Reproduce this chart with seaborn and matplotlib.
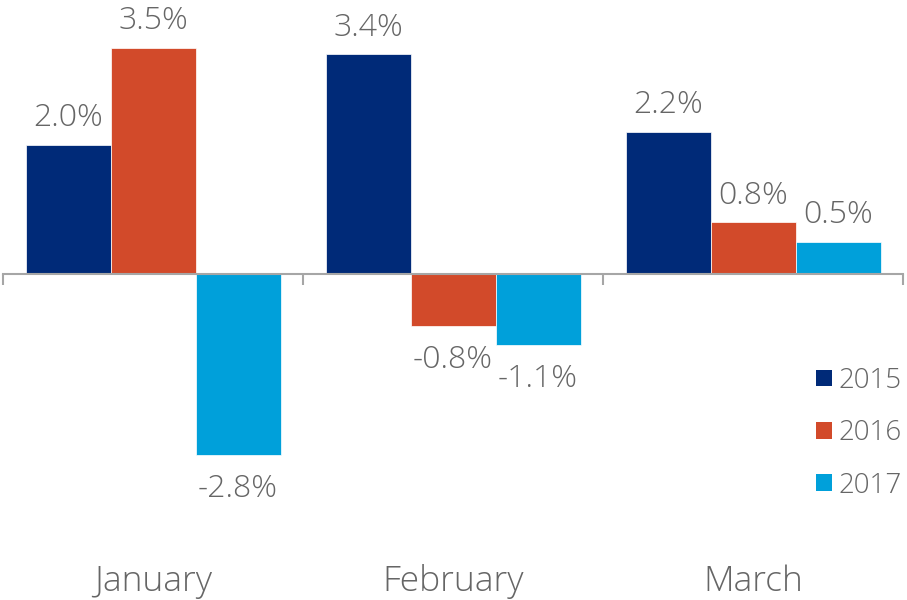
import pandas as pd
import matplotlib.pyplot as plt
import seaborn as sns
from matplotlib.patches import Patch
from matplotlib.ticker import FixedLocator

# --------------------------------------------------
# Data
# --------------------------------------------------

months = ["January", "February", "March"]
years = ["2015", "2016", "2017"]

values_2015 = [2.0, 3.4, 2.2]
values_2016 = [3.5, -0.8, 0.8]
values_2017 = [-2.8, -1.1, 0.5]

colors = ["#002A78", "#D24A2A", "#00A0DA"]

df = pd.DataFrame({
    "month": months * 3,
    "year": [y for y in years for _ in months],
    "value": values_2015 + values_2016 + values_2017,
})

# --------------------------------------------------
# Figure
# --------------------------------------------------

sns.set_style("white")
plt.rcParams["font.family"] = ["Open Sans", "DejaVu Sans"]
plt.rcParams["font.weight"] = "light"

text_color = "#666666"
axis_color = "#A6A6A6"

fig = plt.figure(figsize=(9.07, 6.0), dpi=100)
ax = fig.add_axes([3 / 907, 0.1667, 900 / 907, 0.786])

sns.barplot(
    data=df,
    x="month",
    y="value",
    hue="year",
    palette=colors,
    width=0.85,
    saturation=1,
    gap=0,
    linewidth=0.5,
    edgecolor="white",
    legend=False,
    ax=ax
)

# value labels: above positive bars, below negative ones
for container in ax.containers:
    for bar in container:
        height = bar.get_height()
        x = bar.get_x() + bar.get_width() / 2
        positive = height >= 0
        ax.annotate(
            f"{height:.1f}%",
            (x, bar.get_y() + height),
            xytext=(0, 7.5 if positive else -13),
            textcoords="offset points",
            ha="center",
            va="bottom" if positive else "top",
            fontsize=23,
            color=text_color
        )

ax.set_xlim(-0.5, 2.5)
ax.set_ylim(-3.5, 3.8)

for side in ["top", "right", "left"]:
    ax.spines[side].set_visible(False)

ax.spines["bottom"].set_position(("data", 0))
ax.spines["bottom"].set_color(axis_color)
ax.spines["bottom"].set_linewidth(1.5)

ax.set_yticks([])
ax.set_xlabel("")
ax.set_ylabel("")

ax.xaxis.set_minor_locator(FixedLocator([-0.5, 0.5, 1.5, 2.5]))
ax.tick_params(
    axis="x",
    which="minor",
    bottom=True,
    direction="out",
    length=8,
    width=1.5,
    color=axis_color
)
ax.tick_params(
    axis="x",
    which="major",
    length=0,
    pad=209,
    labelsize=25.5,
    labelcolor=text_color
)

handles = [Patch(facecolor=c, edgecolor="none") for c in colors]
fig.legend(
    handles,
    years,
    loc="center right",
    bbox_to_anchor=(1.007, 0.278),
    frameon=False,
    fontsize=20,
    labelcolor=text_color,
    handlelength=0.55,
    handleheight=0.55,
    handletextpad=0.26,
    labelspacing=0.88,
    borderaxespad=0
)

plt.savefig("out.png", dpi=100)
plt.close()
